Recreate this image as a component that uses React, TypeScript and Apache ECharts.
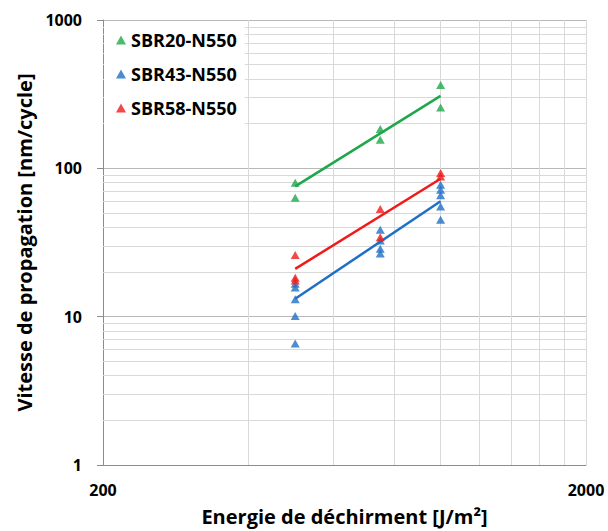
import React, { useEffect, useRef } from "react";
import * as echarts from "echarts";

const seriesNames = ["SBR20-N550", "SBR43-N550", "SBR58-N550"];
const colors = ["#1EA84A", "#1F6FC4", "#F01A1A"];

// measured points [energy J/m², speed nm/cycle]
const sbr20Points: number[][] = [
  [500, 80], [500, 63.4],
  [750, 184], [750, 156],
  [1000, 365], [1000, 257],
];
const sbr43Points: number[][] = [
  [500, 16.7], [500, 15.7], [500, 13.1], [500, 10.1], [500, 6.6],
  [750, 38.6], [750, 32.6], [750, 28.7], [750, 26.7],
  [1000, 77.6], [1000, 71.8], [1000, 65.8], [1000, 55.4], [1000, 45.1],
];
const sbr58Points: number[][] = [
  [500, 26], [500, 18.3], [500, 17.5],
  [750, 53.2], [750, 34.3],
  [1000, 93], [1000, 88],
];

// power-law trend lines (endpoints)
const sbr20Fit: number[][] = [[500, 75.6], [1000, 308]];
const sbr43Fit: number[][] = [[500, 13.2], [1000, 60]];
const sbr58Fit: number[][] = [[500, 21], [1000, 85]];

const xMinorGrid = [400, 600, 800, 1000, 1200, 1400, 1600, 1800, 2000];
const yMinorGrid = [2, 3, 4, 5, 6, 7, 8, 9, 20, 30, 40, 50, 60, 70, 80, 90, 200, 300, 400, 500, 600, 700, 800, 900];
const xLabels = [200, 2000];

const FONT = "'Open Sans', Lato, sans-serif";

export default function App() {
  const ref = useRef<HTMLDivElement>(null);
  useEffect(() => {
    if (!ref.current) return;
    const chart = echarts.init(ref.current, null, { renderer: "svg" });
    const scatter = (name: string, data: number[][], color: string) => ({
      name,
      type: "scatter",
      data,
      symbol: "triangle",
      symbolSize: [9, 8],
      itemStyle: { color },
      z: 4,
    });
    const fit = (name: string, data: number[][], color: string) => ({
      name,
      type: "line",
      data,
      showSymbol: false,
      symbol: "none",
      lineStyle: { color, width: 2.5 },
      z: 3,
    });
    chart.setOption({
      animation: false,
      backgroundColor: "#ffffff",
      textStyle: { fontFamily: FONT },
      grid: { left: 103, right: 22, top: 20, bottom: 65, containLabel: false },
      legend: {
        data: seriesNames.map((n, i) => ({ name: n, itemStyle: { color: colors[i] } })),
        orient: "vertical",
        left: 104,
        top: 21,
        z: 10,
        padding: [10, 8, 36, 12],
        backgroundColor: "#ffffff",
        icon: "triangle",
        itemWidth: 10,
        itemHeight: 9,
        itemGap: 16,
        textStyle: { fontFamily: FONT, fontWeight: "bold", fontSize: 18, color: "#000", lineHeight: 18 },
      },
      xAxis: {
        type: "log",
        logBase: 10,
        min: 200,
        max: 2000,
        interval: 1,
        name: "Energie de déchirment [J/m²]",
        nameLocation: "middle",
        nameGap: 41,
        nameTextStyle: { fontFamily: FONT, fontWeight: "bold", fontSize: 20, color: "#000" },
        axisLine: { show: true, lineStyle: { color: "#8c8c8c", width: 1 } },
        axisTick: { show: false },
        splitLine: { show: false },
        axisLabel: {
          margin: 17,
          fontFamily: FONT,
          fontWeight: "bold",
          fontSize: 16,
          color: "#000",
          formatter: (v: number) => (xLabels.some((l) => Math.abs(l - v) < 1e-6 * l) ? String(Math.round(v)) : ""),
        },
      },
      yAxis: {
        type: "log",
        logBase: 10,
        min: 1,
        max: 1000,
        interval: 1,
        name: "Vitesse de propagation [nm/cycle]",
        nameLocation: "middle",
        nameGap: 62,
        nameTextStyle: { fontFamily: FONT, fontWeight: "bold", fontSize: 20, color: "#000" },
        axisLine: { show: true, lineStyle: { color: "#8c8c8c", width: 1 } },
        axisTick: { show: true, length: 6, lineStyle: { color: "#8c8c8c" } },
        splitLine: { show: true, lineStyle: { color: "#b8b8b8", width: 1 } },
        axisLabel: {
          margin: 21,
          fontFamily: FONT,
          fontWeight: "bold",
          fontSize: 16,
          color: "#000",
          formatter: (v: number) => String(Math.round(v)),
        },
      },
      series: [
        {
          name: "grid",
          type: "scatter",
          data: [[300, 3]],
          symbolSize: 0,
          silent: true,
          z: 1,
          markLine: {
            silent: true,
            z: 1,
            symbol: "none",
            label: { show: false },
            animation: false,
            lineStyle: { color: "#d9d9d9", width: 1, type: "solid" },
            data: [
              ...xMinorGrid.map((v) => ({ xAxis: v })),
              ...yMinorGrid.map((v) => ({ yAxis: v })),
            ],
          },
        },
        fit("fit20", sbr20Fit, colors[0]),
        fit("fit43", sbr43Fit, colors[1]),
        fit("fit58", sbr58Fit, colors[2]),
        scatter(seriesNames[0], sbr20Points, colors[0]),
        scatter(seriesNames[1], sbr43Points, colors[1]),
        scatter(seriesNames[2], sbr58Points, colors[2]),
      ],
    });
    return () => chart.dispose();
  }, []);
  return <div ref={ref} style={{ width: 608, height: 531, position: "absolute", left: 0, top: 0 }} />;
}
